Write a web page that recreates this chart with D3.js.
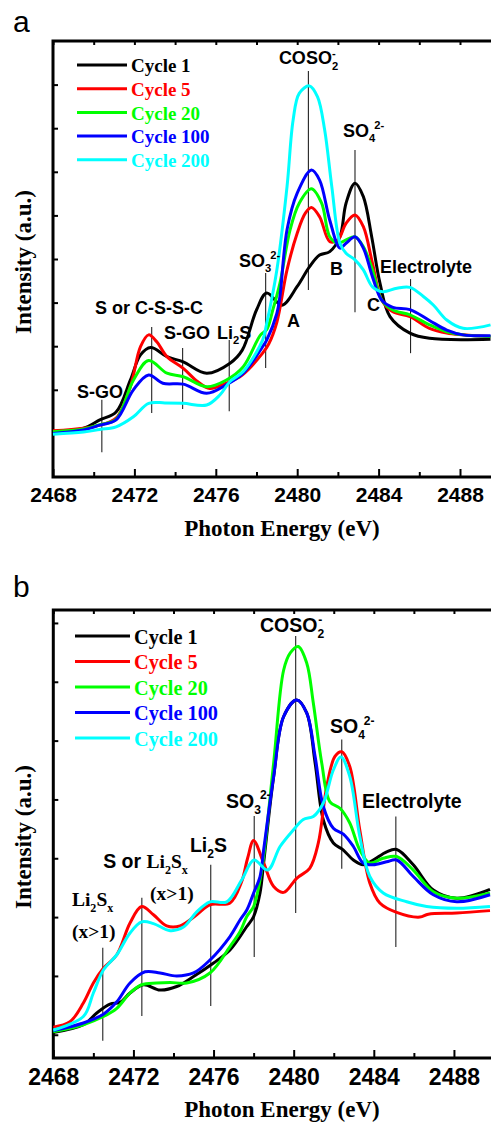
<!DOCTYPE html>
<html>
<head>
<meta charset="utf-8">
<script src="https://cdn.jsdelivr.net/npm/d3@7"></script>
<style>
  body { margin: 0; background: #fff; }
  svg { display: block; }
</style>
</head>
<body>
<div id="chart"></div>
<script>
// ---- data (energy eV, intensity a.u.) ----
var cycles = ["Cycle 1", "Cycle 5", "Cycle 20", "Cycle 100", "Cycle 200"];
var colors = ["#000000", "#ff0000", "#00ff00", "#0000ff", "#00ffff"];
var xTicks = [2468, 2472, 2476, 2480, 2484, 2488];
var xMinorTicks = [2470, 2474, 2478, 2482, 2486];

var a_cycle1 = [[2468,1.04],[2469.5,1.12],[2470.3,1.31],[2471.1,1.49],[2471.8,2.22],[2472.3,2.80],[2472.8,2.97],[2473.6,2.76],[2474.4,2.64],[2475.55,2.38],[2476.7,2.61],[2477.3,2.91],[2478.0,3.83],[2478.5,4.22],[2479.25,3.94],[2480.0,4.37],[2480.6,4.82],[2481.1,5.09],[2481.6,5.17],[2482.1,5.51],[2482.4,6.28],[2482.84,6.74],[2483.25,6.43],[2483.66,5.51],[2484.07,4.44],[2484.56,3.68],[2485.54,3.30],[2486.5,3.18],[2489.5,3.16]];
var a_cycle5 = [[2468,1.06],[2469.5,1.12],[2470.3,1.19],[2471.1,1.35],[2471.8,2.07],[2472.3,2.99],[2472.7,3.26],[2473.1,3.10],[2473.6,2.76],[2474.4,2.49],[2475.1,2.19],[2475.7,2.03],[2476.5,2.15],[2477.3,2.34],[2478.3,2.84],[2478.6,3.05],[2479.0,3.55],[2479.5,4.75],[2480.0,5.59],[2480.4,6.05],[2480.7,6.18],[2481.1,5.97],[2481.6,5.40],[2482.0,5.44],[2482.4,5.82],[2482.84,6.01],[2483.25,5.74],[2483.7,4.90],[2484.15,4.06],[2484.7,3.79],[2485.54,3.68],[2486.5,3.41],[2487.35,3.30],[2488.15,3.26],[2489.5,3.22]];
var a_cycle20 = [[2468,1.04],[2469.5,1.10],[2470.3,1.20],[2471.1,1.32],[2471.95,2.22],[2472.7,2.67],[2473.6,2.38],[2474.4,2.30],[2475.55,2.07],[2476.5,2.22],[2477.35,2.53],[2478.2,3.26],[2478.5,3.38],[2478.8,3.83],[2479.15,4.44],[2479.65,5.67],[2480.1,6.28],[2480.7,6.61],[2481.2,6.28],[2481.6,5.51],[2482.0,5.36],[2482.4,5.44],[2482.84,5.51],[2483.25,5.28],[2483.7,4.75],[2484.15,4.06],[2484.7,3.83],[2485.54,3.72],[2486.5,3.49],[2487.35,3.33],[2488.15,3.26],[2489.5,3.22]];
var a_cycle100 = [[2468,1.00],[2469.5,1.08],[2470.3,1.19],[2471.1,1.31],[2471.95,2.00],[2472.7,2.34],[2473.4,2.15],[2474.4,2.13],[2475.55,1.92],[2476.5,2.11],[2477.35,2.38],[2478.3,2.99],[2478.5,3.14],[2479.0,3.75],[2479.15,4.14],[2479.5,5.67],[2480.0,6.51],[2480.7,7.04],[2481.1,6.81],[2481.6,5.89],[2482.1,5.25],[2482.4,5.36],[2482.84,5.51],[2483.25,5.25],[2483.7,4.59],[2484.15,4.06],[2484.7,3.89],[2485.54,3.84],[2486.5,3.59],[2487.35,3.37],[2488.15,3.26],[2489.5,3.24]];
var a_cycle200 = [[2468,0.98],[2469.5,1.03],[2470.3,1.09],[2471.1,1.15],[2471.95,1.38],[2472.7,1.69],[2473.5,1.70],[2474.4,1.69],[2475.55,1.65],[2476.2,1.88],[2476.7,2.19],[2477.35,2.42],[2478.3,3.14],[2478.5,3.52],[2479.0,4.75],[2479.5,6.66],[2479.8,8.19],[2480.1,8.80],[2480.6,8.97],[2481.0,8.72],[2481.35,7.96],[2481.7,6.66],[2482.1,5.36],[2482.4,5.13],[2482.84,4.98],[2483.25,4.75],[2483.7,4.36],[2484.2,4.25],[2484.9,4.33],[2485.54,4.35],[2486.2,4.14],[2486.7,3.94],[2487.35,3.60],[2488.15,3.41],[2489.5,3.49]];

var b_cycle1 = [[2468,0.04],[2469.5,0.17],[2470.17,0.37],[2470.83,0.52],[2471.33,0.55],[2471.83,0.71],[2472.5,0.85],[2473.33,0.76],[2474.16,0.82],[2475.0,0.99],[2476.0,1.22],[2476.82,1.44],[2477.66,1.84],[2478.0,2.01],[2478.32,2.41],[2478.5,2.92],[2479.0,4.39],[2479.5,5.41],[2480.15,5.69],[2480.65,5.47],[2481.07,4.62],[2481.48,3.65],[2481.98,3.26],[2482.48,3.14],[2482.98,2.97],[2483.47,2.89],[2483.97,2.97],[2484.64,3.11],[2485.14,3.15],[2485.97,2.89],[2486.97,2.46],[2488.14,2.32],[2489.8,2.47]];
var b_cycle5 = [[2468,0.13],[2468.83,0.22],[2469.5,0.54],[2470.0,0.88],[2470.5,1.13],[2471.17,1.36],[2471.83,1.90],[2472.41,2.18],[2473.0,2.04],[2473.66,1.85],[2474.33,1.85],[2475.16,2.04],[2475.82,2.21],[2476.82,2.24],[2477.4,2.60],[2477.7,3.00],[2478.0,3.30],[2478.5,2.92],[2479.0,2.52],[2479.5,2.42],[2480.15,2.66],[2480.8,2.83],[2481.23,3.26],[2481.65,4.22],[2482.06,4.73],[2482.4,4.81],[2482.8,4.56],[2483.3,3.48],[2483.8,2.58],[2484.3,2.24],[2485.14,2.08],[2486.3,2.00],[2486.72,2.05],[2488.14,2.07],[2489.8,2.11]];
var b_cycle20 = [[2468,0.05],[2469.5,0.17],[2470.5,0.31],[2471.17,0.45],[2471.83,0.71],[2472.41,0.85],[2473.16,0.88],[2473.83,0.89],[2474.66,0.88],[2475.82,1.05],[2476.82,1.50],[2477.32,1.75],[2477.66,2.01],[2478.0,2.18],[2478.32,2.63],[2478.5,3.03],[2479.0,4.62],[2479.5,6.20],[2479.83,6.49],[2480.23,6.60],[2480.65,6.32],[2480.98,5.64],[2481.4,4.62],[2481.81,3.96],[2482.31,3.85],[2482.8,3.60],[2483.3,3.14],[2483.8,2.92],[2484.47,3.00],[2485.14,3.03],[2485.97,2.80],[2486.97,2.43],[2488.14,2.32],[2489.8,2.41]];
var b_cycle100 = [[2468,0.07],[2469.5,0.20],[2470.5,0.35],[2471.17,0.56],[2471.83,0.88],[2472.58,1.07],[2473.33,1.05],[2474.16,1.00],[2475.0,1.05],[2475.82,1.27],[2476.82,1.67],[2477.32,1.95],[2477.66,2.12],[2478.0,2.41],[2478.32,2.69],[2478.5,3.14],[2479.0,4.39],[2479.5,5.41],[2480.15,5.69],[2480.65,5.47],[2481.07,4.73],[2481.48,3.88],[2481.98,3.51],[2482.48,3.41],[2482.98,3.20],[2483.47,2.92],[2483.97,2.89],[2484.64,2.94],[2485.14,2.97],[2485.97,2.69],[2486.97,2.38],[2488.14,2.26],[2489.8,2.38]];
var b_cycle200 = [[2468,0.08],[2469.5,0.31],[2470.0,0.71],[2470.5,1.10],[2471.17,1.36],[2471.83,1.73],[2472.41,1.92],[2473.0,1.89],[2473.83,1.77],[2474.5,1.83],[2475.16,2.09],[2475.82,2.26],[2476.66,2.26],[2477.4,2.63],[2478.02,2.97],[2478.7,2.80],[2479.32,3.20],[2479.98,3.48],[2480.48,3.66],[2480.98,3.71],[2481.48,3.94],[2481.98,4.50],[2482.36,4.72],[2482.8,4.39],[2483.3,3.37],[2483.8,2.69],[2484.47,2.41],[2485.64,2.26],[2486.64,2.18],[2488.14,2.15],[2489.8,2.18]];

// marker lines: [energy, y from, y to]
var a_markers = [[2470.4,1.77,0.57],[2472.85,3.44,1.47],[2474.37,2.96,1.56],[2476.66,3.14,1.51],[2478.45,4.68,2.50],[2480.55,9.31,4.29],[2482.84,7.50,3.78],[2485.57,4.54,2.84]];
var b_markers = [[2470.47,1.48,-0.10],[2472.42,2.33,0.32],[2475.86,2.89,0.49],[2478.03,3.72,1.32],[2480.1,6.78,2.07],[2482.4,5.02,2.82],[2485.1,3.71,1.49]];

var SANS = "'Liberation Sans', Arial, sans-serif";
var SERIF = "'Liberation Serif', 'Times New Roman', serif";

// labels: [energy, intensity, parts]
var a_labels = [
  [2479.1, 9.47, [{t:"COSO"},{t:"2",sub:1},{t:"-",sup:1,dx:-6}]],
  [2482.25, 7.80, [{t:"SO"},{t:"4",sub:1},{t:"2-",sup:1,dx:-1}]],
  [2477.14, 4.82, [{t:"SO"},{t:"3",sub:1},{t:"2-",sup:1,dx:-1}]],
  [2484.07, 4.68, [{t:"Electrolyte"}]],
  [2479.5, 3.44, [{t:"A"}]],
  [2481.61, 4.63, [{t:"B"}]],
  [2483.43, 3.81, [{t:"C"}]],
  [2470.06, 3.74, [{t:"S or C-S-S-C"}]],
  [2473.45, 3.17, [{t:"S-GO"}]],
  [2476.06, 3.17, [{t:"Li"},{t:"2",sub:1},{t:"S"}]],
  [2469.18, 1.81, [{t:"S-GO"}]]
];
var b_labels = [
  [2478.32, 6.85, [{t:"COSO"},{t:"2",sub:1},{t:"-",sup:1,dx:-6}]],
  [2481.81, 5.13, [{t:"SO"},{t:"4",sub:1},{t:"2-",sup:1,dx:-1}]],
  [2476.62, 3.86, [{t:"SO"},{t:"3",sub:1},{t:"2-",sup:1,dx:-1}]],
  [2483.41, 3.86, [{t:"Electrolyte"}]],
  [2474.82, 3.11, [{t:"Li"},{t:"2",sub:1},{t:"S"}]],
  [2470.49, 2.84, [{t:"S or "},{t:"Li",f:SERIF},{t:"2",sub:1,f:SERIF},{t:"S",f:SERIF},{t:"x",sub:1,f:SERIF}]],
  [2472.83, 2.29, [{t:"(x>1)",f:SERIF}]],
  [2468.93, 2.19, [{t:"Li",f:SERIF},{t:"2",sub:1,f:SERIF},{t:"S",f:SERIF},{t:"x",sub:1,f:SERIF}]],
  [2468.93, 1.65, [{t:"(x>1)",f:SERIF}]]
];

var W = 491, H = 1123;
var svg = d3.select("#chart").append("svg")
    .attr("width", W)
    .attr("height", H);

function richText(g, x, y, parts, size) {
    var t = g.append("text")
        .attr("x", x).attr("y", y)
        .style("font-family", SANS)
        .style("font-weight", "bold")
        .style("font-size", size + "px")
        .attr("fill", "#000");
    var cur = 0;
    parts.forEach(function(p) {
        var s = t.append("tspan").text(p.t);
        var target = p.sub ? size * 0.3 : (p.sup ? -size * 0.42 : 0);
        s.attr("dy", target - cur);
        cur = target;
        if (p.sub || p.sup) s.style("font-size", (size * 0.62) + "px");
        if (p.dx) s.attr("dx", p.dx);
        if (p.f) s.style("font-family", p.f);
    });
    return t;
}

function drawPanel(o) {
    var x = d3.scaleLinear().domain([2468, 2490]).range([o.left, o.right]);
    var y = d3.scaleLinear().domain(o.yDomain).range([o.bottom, o.top]);
    var g = svg.append("g");

    // panel letter
    g.append("text")
        .attr("x", 13).attr("y", o.letterY)
        .style("font-family", SANS)
        .style("font-size", "30px")
        .text(o.letter);

    // ticks
    var xMajor = d3.axisBottom(x).tickValues(xTicks).tickSize(-8).tickPadding(o.tickPad).tickFormat(d3.format("d"));
    var gx = g.append("g").attr("transform", "translate(0," + o.bottom + ")").call(xMajor);
    gx.selectAll("text")
        .style("font-family", SANS)
        .style("font-weight", "bold")
        .style("font-size", o.tickFont + "px")
        .attr("fill", "#000");
    g.append("g").attr("transform", "translate(0," + o.bottom + ")")
        .call(d3.axisBottom(x).tickValues(xMinorTicks).tickSize(-5).tickFormat(""));
    g.append("g").attr("transform", "translate(0," + o.top + ")")
        .call(d3.axisTop(x).tickValues(xTicks.concat(xMinorTicks)).tickSize(-4).tickFormat(""));
    g.append("g").attr("transform", "translate(" + o.left + ",0)")
        .call(d3.axisLeft(y).tickValues(o.yTicks).tickSize(-5).tickFormat(""));
    g.selectAll(".domain").remove();
    g.selectAll(".tick line").attr("stroke", "#000").attr("stroke-width", 2);

    // frame
    g.append("path")
        .attr("d", "M" + (W + 10) + "," + o.top + "H" + o.left + "V" + o.bottom + "H" + (W + 10))
        .attr("fill", "none")
        .attr("stroke", "#000")
        .attr("stroke-width", 3);

    // marker lines
    g.selectAll(".marker").data(o.markers).enter().append("line")
        .attr("x1", function(d) { return x(d[0]); })
        .attr("x2", function(d) { return x(d[0]); })
        .attr("y1", function(d) { return y(d[1]); })
        .attr("y2", function(d) { return y(d[2]); })
        .attr("stroke", "#222")
        .attr("stroke-width", 1.1);

    // curves
    var line = d3.line()
        .x(function(d) { return x(d[0]); })
        .y(function(d) { return y(d[1]); })
        .curve(d3.curveCatmullRom.alpha(0.5));
    g.selectAll(".curve").data(o.series).enter().append("path")
        .attr("d", line)
        .attr("fill", "none")
        .attr("stroke", function(d, i) { return colors[i]; })
        .attr("stroke-width", 3)
        .attr("stroke-linejoin", "round");

    // annotations
    o.labels.forEach(function(l) {
        richText(g, x(l[0]), y(l[1]), l[2], o.labelFont);
    });

    // legend
    cycles.forEach(function(c, i) {
        var ly = o.legendY + i * o.legendStep;
        g.append("line")
            .attr("x1", o.legendX).attr("x2", o.legendX + o.legendLen)
            .attr("y1", ly).attr("y2", ly)
            .attr("stroke", colors[i]).attr("stroke-width", 3);
        g.append("text")
            .attr("x", o.legendX + o.legendLen + 4)
            .attr("y", ly + o.legendFont * 0.38)
            .style("font-family", SERIF)
            .style("font-weight", "bold")
            .style("font-size", o.legendFont + "px")
            .attr("fill", colors[i])
            .text(c);
    });

    // axis titles
    g.append("text")
        .attr("x", 282).attr("y", o.bottom + o.xTitleOff)
        .attr("text-anchor", "middle")
        .style("font-family", SERIF)
        .style("font-weight", "bold")
        .style("font-size", "23px")
        .text("Photon Energy (eV)");
    g.append("text")
        .attr("transform", "translate(31," + ((o.top + o.bottom) / 2 + 3) + ") rotate(-90)")
        .attr("text-anchor", "middle")
        .style("font-family", SERIF)
        .style("font-weight", "bold")
        .style("font-size", "23px")
        .text("Intensity (a.u.)");
}

drawPanel({
    letter: "a", letterY: 32,
    left: 53, right: 53 + 22 * 20.35, top: 41, bottom: 477,
    yDomain: [0, 10], yTicks: [1, 2, 3, 4, 5, 6, 7, 8, 9],
    tickFont: 21, tickPad: 10, labelFont: 18,
    series: [a_cycle1, a_cycle5, a_cycle20, a_cycle100, a_cycle200],
    markers: a_markers, labels: a_labels,
    legendX: 77, legendLen: 50, legendY: 65, legendStep: 23.7, legendFont: 19,
    xTitleOff: 59
});

drawPanel({
    letter: "b", letterY: 597,
    left: 53.3, right: 494, top: 610, bottom: 1058,
    yDomain: [-0.395, 7.22], yTicks: [0, 1, 2, 3, 4, 5, 6, 7],
    tickFont: 23, tickPad: 11, labelFont: 19.5,
    series: [b_cycle1, b_cycle5, b_cycle20, b_cycle100, b_cycle200],
    markers: b_markers, labels: b_labels,
    legendX: 75, legendLen: 55, legendY: 636, legendStep: 25.5, legendFont: 20.3,
    xTitleOff: 59
});
</script>
</body>
</html>
